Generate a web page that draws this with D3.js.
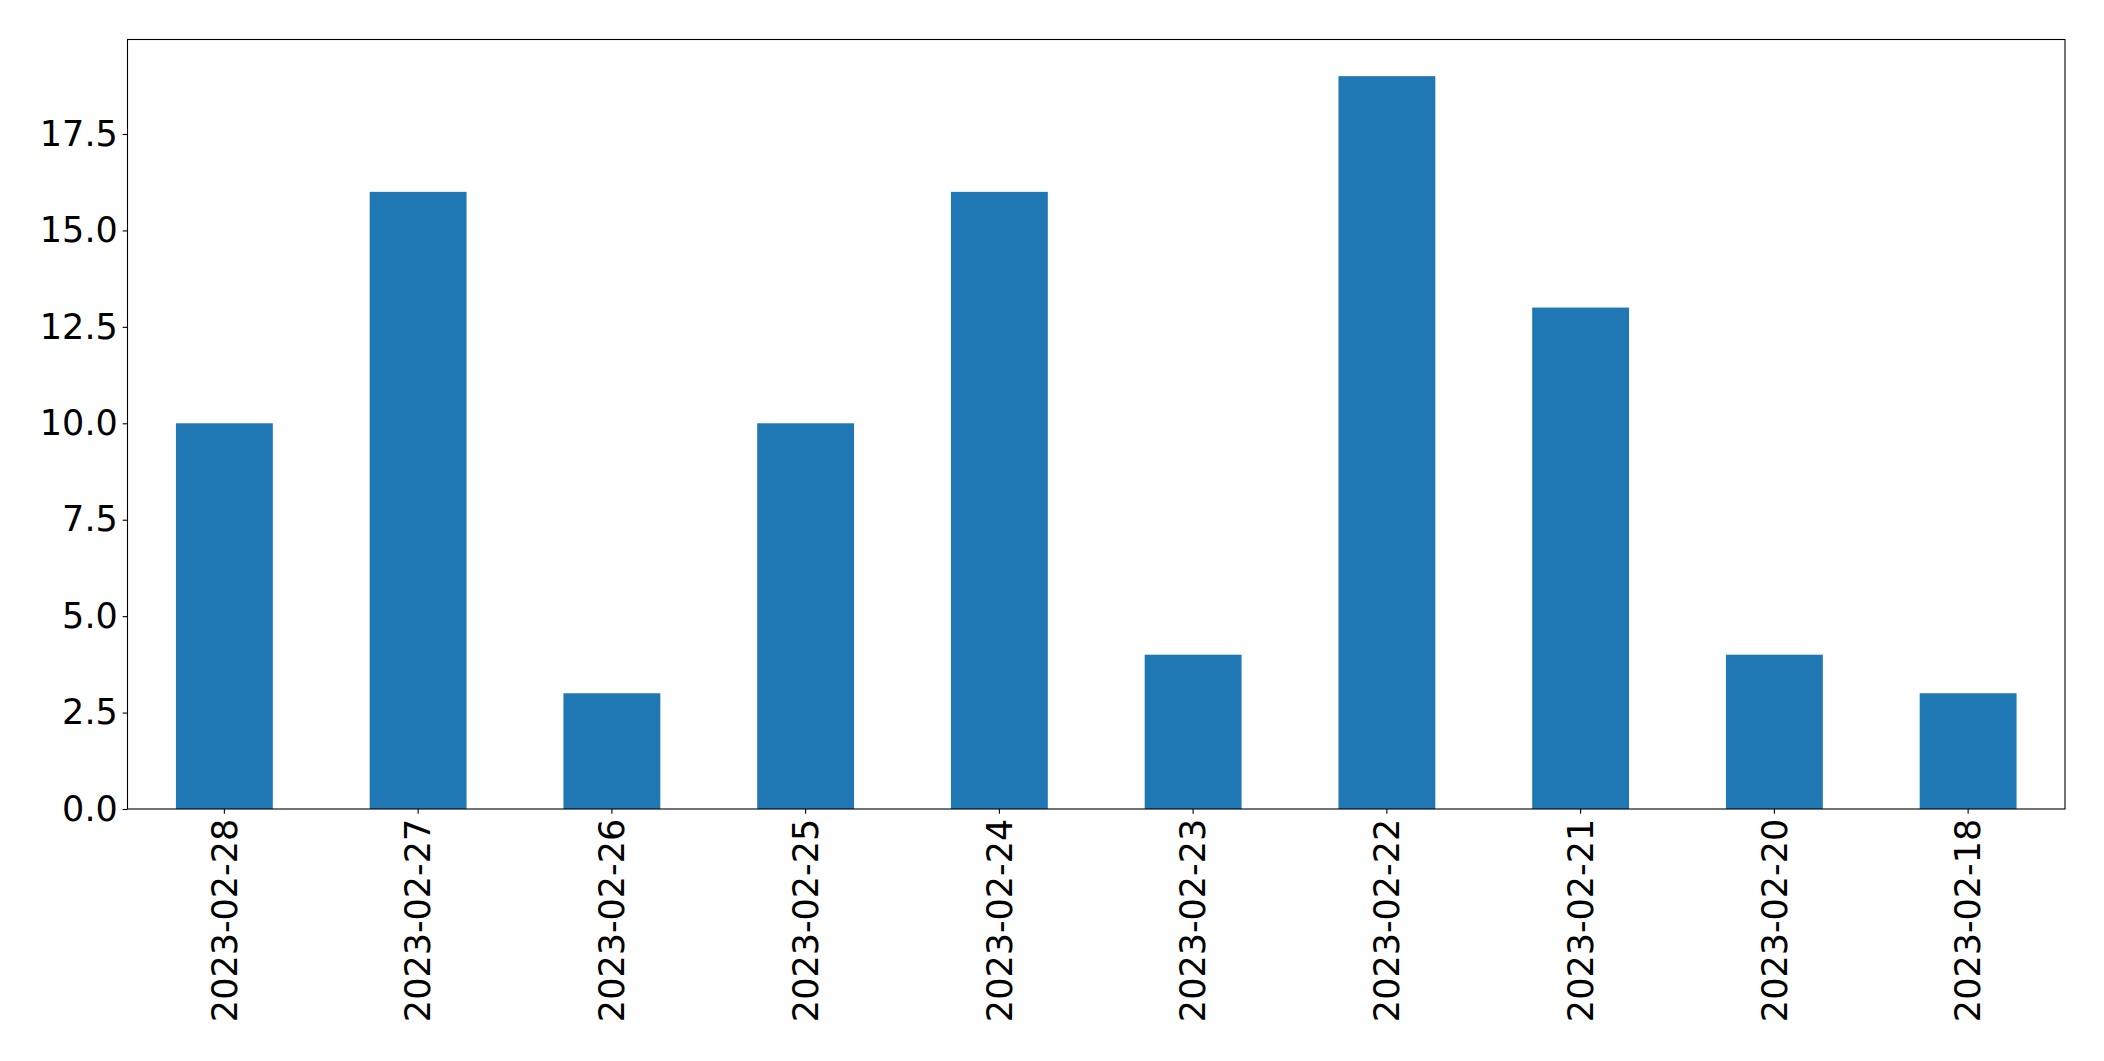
<!DOCTYPE html>
<html>
<head>
<meta charset="utf-8">
<script src="https://cdn.jsdelivr.net/npm/d3@7"></script>
<style>
  html, body { margin: 0; padding: 0; background: #fff; }
  svg { display: block; }
  text { font-family: "DejaVu Sans", sans-serif; }
</style>
</head>
<body>
<svg id="chart" width="2104" height="1061"></svg>
<script>
const categories = ["2023-02-28","2023-02-27","2023-02-26","2023-02-25","2023-02-24","2023-02-23","2023-02-22","2023-02-21","2023-02-20","2023-02-18"];
const values = [10, 16, 3, 10, 16, 4, 19, 13, 4, 3];
const yTicks = [0, 2.5, 5, 7.5, 10, 12.5, 15, 17.5];

const W = 2104, H = 1061;
const margin = { left: 127.5, right: 2065, top: 39.5, bottom: 809 };
const fontPx = 35;
const tickLen = 4.86;
const pad = 4.86;

const svg = d3.select("#chart");

const x = d3.scaleBand()
  .domain(categories)
  .range([margin.left, margin.right])
  .paddingInner(0.5)
  .paddingOuter(0.25);

const yMax = d3.max(values) * 1.05;
const y = d3.scaleLinear().domain([0, yMax]).range([margin.bottom, margin.top]);

// bars
svg.append("g").selectAll("rect")
  .data(values)
  .join("rect")
  .attr("x", (d, i) => x(categories[i]))
  .attr("width", x.bandwidth())
  .attr("y", d => y(d))
  .attr("height", d => y(0) - y(d))
  .attr("fill", "#1f77b4");

// y axis
const yAxis = d3.axisLeft(y)
  .tickValues(yTicks)
  .tickFormat(d3.format(".1f"))
  .tickSize(tickLen)
  .tickPadding(pad);
const gy = svg.append("g")
  .attr("transform", `translate(${margin.left},0)`)
  .call(yAxis);
gy.select(".domain").remove();
gy.selectAll(".tick line").attr("stroke", "#000").attr("stroke-width", 1.1);
gy.selectAll(".tick text")
  .attr("font-family", "DejaVu Sans")
  .attr("font-size", fontPx)
  .attr("fill", "#000");

// x axis
const xAxis = d3.axisBottom(x).tickSize(tickLen).tickPadding(pad);
const gx = svg.append("g")
  .attr("transform", `translate(0,${margin.bottom})`)
  .call(xAxis);
gx.select(".domain").remove();
gx.selectAll(".tick line").attr("stroke", "#000").attr("stroke-width", 1.1);
gx.selectAll(".tick text")
  .attr("font-family", "DejaVu Sans")
  .attr("font-size", fontPx)
  .attr("fill", "#000")
  .attr("text-anchor", "end")
  .attr("y", 0)
  .attr("dy", "0.35em")
  .attr("transform", `translate(0,${tickLen + pad}) rotate(-90)`)
  .attr("x", 0);

// frame
svg.append("rect")
  .attr("x", margin.left)
  .attr("y", margin.top)
  .attr("width", margin.right - margin.left)
  .attr("height", margin.bottom - margin.top)
  .attr("fill", "none")
  .attr("stroke", "#000")
  .attr("stroke-width", 1.1);
</script>
</body>
</html>
